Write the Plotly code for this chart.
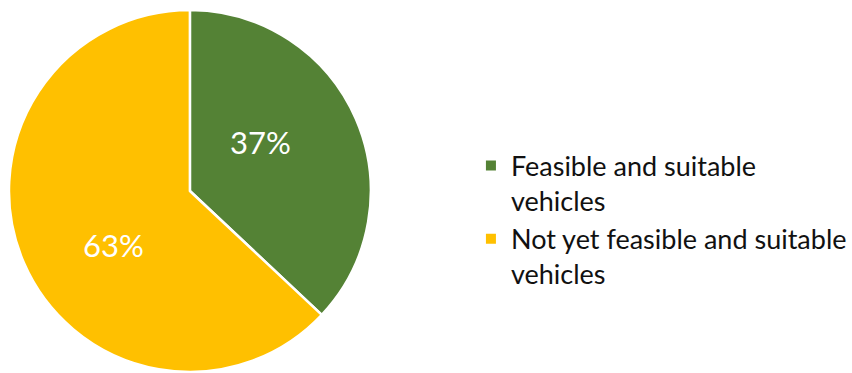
import plotly.graph_objects as go

# Share of vehicles by feasibility status
categories = ["Feasible and suitable<br>vehicles", "Not yet feasible and suitable<br>vehicles"]
shares = [37, 63]
colors = ["#548235", "#FFC000"]

# Label anchor points (paper coordinates) for the percentage labels
label_x = [0.307, 0.134]
label_y = [0.619, 0.343]

fig = go.Figure(
    go.Pie(
        labels=categories,
        values=shares,
        sort=False,
        direction="clockwise",
        rotation=0,
        marker=dict(colors=colors, line=dict(color="white", width=2.5)),
        textinfo="none",
        domain=dict(x=[0.0106, 0.4378], y=[0.0, 0.976]),
        hoverinfo="label+percent",
    )
)

for v, lx, ly in zip(shares, label_x, label_y):
    fig.add_annotation(
        x=lx, y=ly, xref="paper", yref="paper",
        text=f"{v}%", showarrow=False,
        xanchor="center", yanchor="middle",
        font=dict(family="Lato", size=31, color="white"),
    )

fig.update_layout(
    width=852,
    height=373,
    margin=dict(l=0, r=0, t=0, b=0),
    paper_bgcolor="white",
    plot_bgcolor="white",
    showlegend=True,
    legend=dict(
        x=0.556,
        y=0.41,
        xanchor="left",
        yanchor="middle",
        valign="top",
        font=dict(family="Lato", size=27, color="#111111"),
        itemsizing="constant",
        tracegroupgap=0,
        bgcolor="rgba(0,0,0,0)",
    ),
)

fig.write_html("out.html")
